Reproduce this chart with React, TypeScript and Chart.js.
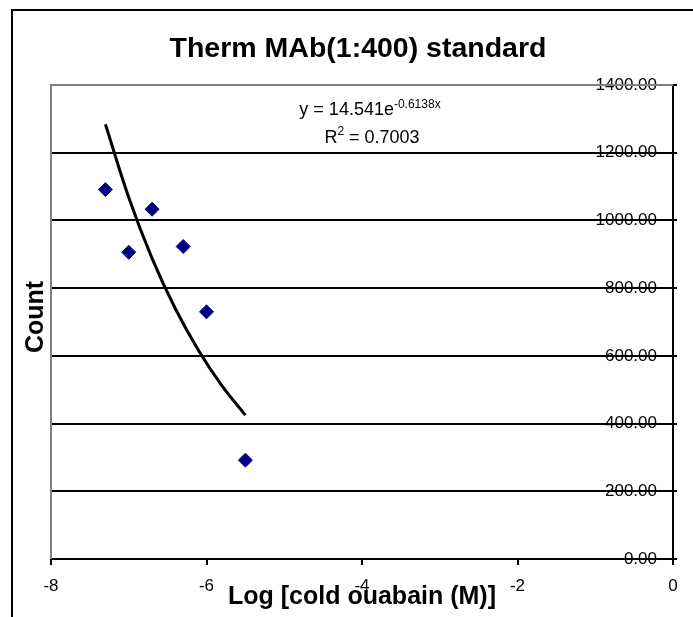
import React, { useEffect, useRef } from 'react';
import { Chart, registerables } from 'chart.js';

Chart.register(...registerables);

const TITLE = 'Therm MAb(1:400) standard';
const X_TITLE = 'Log [cold ouabain (M)]';
const Y_TITLE = 'Count';

const logConc = [-7.3, -7.0, -6.7, -6.3, -6.0, -5.5];
const counts = [1091, 906, 1033, 923, 730, 292];

const trendX = [-7.3, -7.0, -6.7, -6.4, -6.1, -5.8, -5.5];
const trendY = [1284, 1068, 888, 739, 615, 511, 425];

const EQ_MAIN = 'y = 14.541e';
const EQ_EXP = '-0.6138x';
const R2_BASE = 'R';
const R2_SUP = '2';
const R2_REST = ' = 0.7003';

const X_MIN = -8;
const X_MAX = 0;
const X_STEP = 2;
const Y_MIN = 0;
const Y_MAX = 1400;
const Y_STEP = 200;

const FAMILY = '"Liberation Sans", Arial, sans-serif';

const decorPlugin = {
  id: 'decor',
  afterDraw(chart: any) {
    const ctx: CanvasRenderingContext2D = chart.ctx;
    const a = chart.chartArea;
    ctx.save();
    // outer frame (top and left visible)
    ctx.strokeStyle = '#000';
    ctx.lineWidth = 2;
    ctx.beginPath();
    ctx.moveTo(12, chart.height);
    ctx.lineTo(12, 10);
    ctx.lineTo(chart.width, 10);
    ctx.stroke();
    // plot-area gray border (left and top)
    ctx.strokeStyle = '#808080';
    ctx.lineWidth = 2;
    ctx.beginPath();
    ctx.moveTo(a.left, a.bottom);
    ctx.lineTo(a.left, a.top);
    ctx.lineTo(a.right, a.top);
    ctx.stroke();

    ctx.fillStyle = '#000';
    // title
    ctx.font = `bold 28.5px ${FAMILY}`;
    ctx.textAlign = 'center';
    ctx.textBaseline = 'alphabetic';
    ctx.fillText(TITLE, 358, 57);

    // y title
    ctx.save();
    ctx.translate(43, 317);
    ctx.rotate(-Math.PI / 2);
    ctx.font = `bold 25px ${FAMILY}`;
    ctx.textAlign = 'center';
    ctx.fillText(Y_TITLE, 0, 0);
    ctx.restore();

    // trend equation
    ctx.textAlign = 'left';
    const mainFont = `18px ${FAMILY}`;
    const supFont = `12px ${FAMILY}`;
    ctx.font = mainFont;
    const w1 = ctx.measureText(EQ_MAIN).width;
    ctx.font = supFont;
    const w2 = ctx.measureText(EQ_EXP).width;
    let x = 370 - (w1 + w2) / 2;
    ctx.font = mainFont;
    ctx.fillText(EQ_MAIN, x, 115);
    ctx.font = supFont;
    ctx.fillText(EQ_EXP, x + w1, 107.5);

    ctx.font = mainFont;
    const r1 = ctx.measureText(R2_BASE).width;
    const r3 = ctx.measureText(R2_REST).width;
    ctx.font = supFont;
    const r2 = ctx.measureText(R2_SUP).width;
    x = 372 - (r1 + r2 + r3) / 2;
    ctx.font = mainFont;
    ctx.fillText(R2_BASE, x, 143);
    ctx.font = supFont;
    ctx.fillText(R2_SUP, x + r1, 135);
    ctx.font = mainFont;
    ctx.fillText(R2_REST, x + r1 + r2, 143);
    ctx.restore();
  },
};

export default function App() {
  const ref = useRef<HTMLCanvasElement | null>(null);

  useEffect(() => {
    if (!ref.current) return;
    const points = logConc.map((v, i) => ({ x: v, y: counts[i] }));
    const trend = trendX.map((v, i) => ({ x: v, y: trendY[i] }));
    const chart = new Chart(ref.current, {
      type: 'scatter',
      data: {
        datasets: [
          {
            type: 'line',
            data: trend,
            borderColor: '#000',
            borderWidth: 3,
            pointRadius: 0,
            tension: 0.4,
            fill: false,
            showLine: true,
          } as any,
          {
            data: points,
            pointStyle: 'rectRot',
            pointRadius: 7,
            pointHoverRadius: 7,
            backgroundColor: '#000080',
            borderColor: '#000080',
            borderWidth: 1,
          },
        ],
      },
      options: {
        responsive: false,
        maintainAspectRatio: false,
        animation: false,
        layout: { padding: { left: 51, top: 85, right: 0, bottom: 0 } },
        plugins: {
          legend: { display: false },
          tooltip: { enabled: false },
          title: { display: false },
        },
        scales: {
          x: {
            type: 'linear',
            position: 'bottom',
            min: X_MIN,
            max: X_MAX,
            ticks: {
              stepSize: X_STEP,
              color: '#000',
              font: { family: FAMILY, size: 17 },
              padding: 11,
              maxRotation: 0,
            },
            grid: {
              drawOnChartArea: false,
              drawTicks: true,
              tickLength: 6,
              color: '#000',
              lineWidth: 2,
            },
            border: { display: true, color: '#000', width: 2 },
            title: {
              display: true,
              text: X_TITLE,
              color: '#000',
              font: { family: FAMILY, size: 25, weight: 'bold' },
              padding: { top: 0, bottom: 5 },
            },
            afterFit: (s: any) => {
              s.height = 58;
            },
          },
          y: {
            type: 'linear',
            position: 'right',
            min: Y_MIN,
            max: Y_MAX,
            ticks: {
              stepSize: Y_STEP,
              mirror: true,
              padding: -16,
              color: '#000',
              font: { family: FAMILY, size: 17 },
              callback: (v: any) => Number(v).toFixed(2),
            },
            grid: {
              drawOnChartArea: true,
              drawTicks: true,
              tickLength: 4,
              color: '#000',
              lineWidth: 2,
            },
            border: { display: true, color: '#000', width: 2 },
            afterFit: (s: any) => {
              s.width = 20;
            },
          },
        },
      },
      plugins: [decorPlugin],
    });
    return () => chart.destroy();
  }, []);

  return (
    <div
      style={{
        position: 'fixed',
        left: 0,
        top: 0,
        width: 693,
        height: 617,
        background: '#fff',
      }}
    >
      <canvas ref={ref} width={693} height={617} style={{ display: 'block' }} />
    </div>
  );
}
